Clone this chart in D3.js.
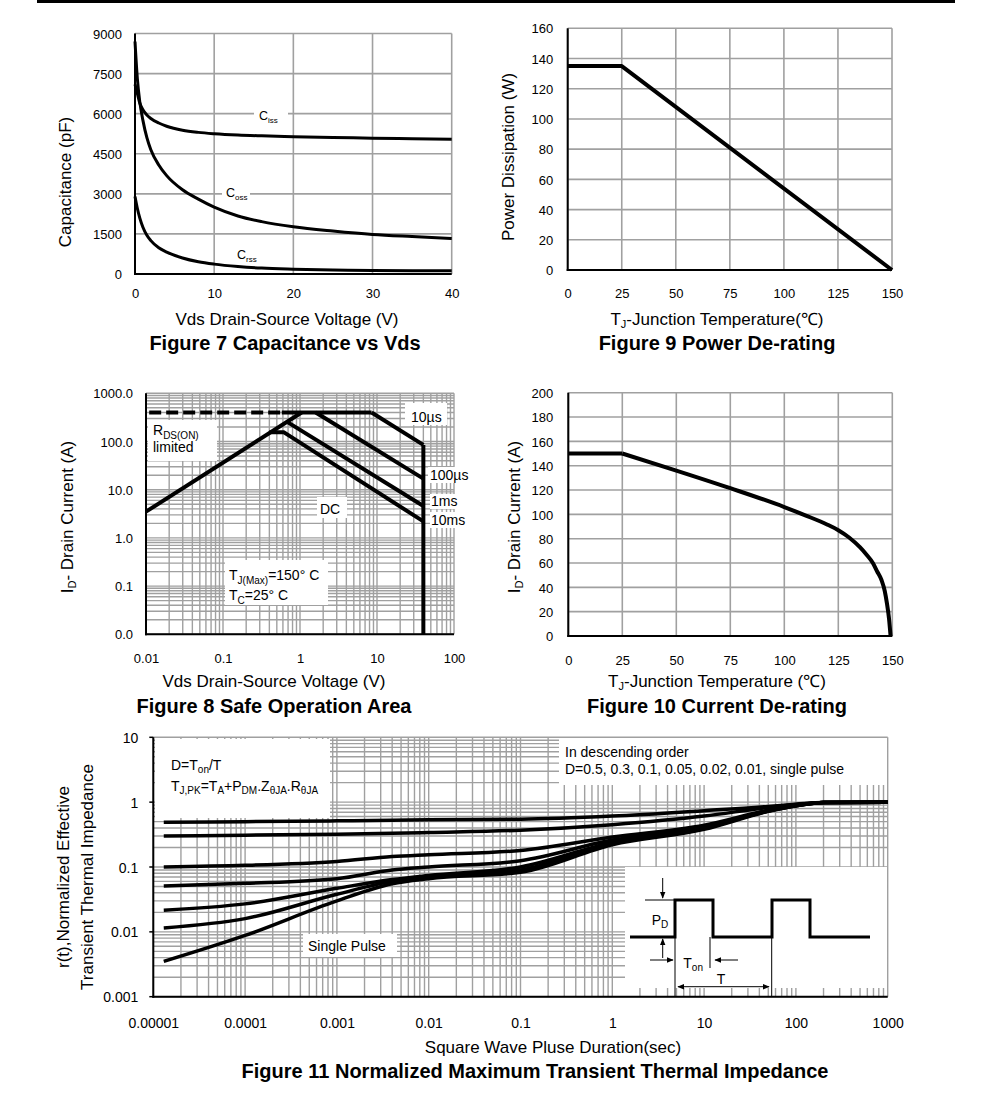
<!DOCTYPE html>
<html>
<head>
<meta charset="utf-8">
<script src="https://cdn.jsdelivr.net/npm/d3@7"></script>
<style>
body { margin: 0; background: #fff; }
svg { display: block; }
text { font-family: "Liberation Sans", Arial, sans-serif; fill: #000; }
</style>
</head>
<body>
<svg width="991" height="1118"></svg>
<script>
// ---------- Figure 7 : capacitance vs Vds
var capVolts = [0, 0.3, 0.6, 1, 1.5, 2, 3, 4, 6, 8, 10, 13, 16, 20, 25, 30, 35, 40];
var cissPF = [7100, 6750, 6400, 6150, 5950, 5820, 5650, 5530, 5380, 5300, 5250, 5200, 5170, 5140, 5110, 5080, 5060, 5040];
var cossPF = [8700, 7300, 6450, 5750, 5100, 4650, 4080, 3680, 3150, 2800, 2500, 2170, 1960, 1770, 1610, 1480, 1400, 1330];
var crssPF = [2900, 2450, 2100, 1750, 1450, 1250, 980, 820, 600, 460, 370, 280, 220, 180, 150, 135, 125, 120];
var capXTicks = [0, 10, 20, 30, 40];
var capYTicks = [0, 1500, 3000, 4500, 6000, 7500, 9000];

// ---------- Figure 9 : power de-rating
var pdTemp = [0, 25, 150];
var pdWatts = [135, 135, 0];
var tempTicks = [0, 25, 50, 75, 100, 125, 150];
var pdYTicks = [0, 20, 40, 60, 80, 100, 120, 140, 160];

// ---------- Figure 8 : safe operating area
var soaXTicks = [0.01, 0.1, 1, 10, 100];
var soaXLabels = ["0.01", "0.1", "1", "10", "100"];
var soaYTicks = [0.01, 0.1, 1, 10, 100, 1000];
var soaYLabels = ["0.0", "0.1", "1.0", "10.0", "100.0", "1000.0"];
var rdsDashV = [0.011, 0.58], rdsDashA = [400, 400];
var riseV = [0.01, 1.05], riseA = [3.5, 400];
var flatV = [0.58, 8.5], flatA = [400, 400];
var us10V = [8.5, 40], us10A = [400, 85];
var us100V = [1.6, 40], us100A = [400, 17];
var ms1V = [0.68, 40], ms1A = [255, 4.6];
var ms10V = [0.4, 0.62, 40], ms10A = [155, 155, 2.2];
var vmaxV = [40, 40], vmaxA = [85, 0.01];

// ---------- Figure 10 : current de-rating
var idTemp = [0, 25, 50, 75, 100, 110, 120, 125, 130, 135, 138, 141, 143, 145, 146.5, 147.5, 148.5, 149.2];
var idAmps = [150, 150, 136, 121.5, 106, 99, 91.5, 87, 81, 73, 67, 60, 53, 46, 37, 27, 14, 0];
var idYTicks = [0, 20, 40, 60, 80, 100, 120, 140, 160, 180, 200];

// ---------- Figure 11 : transient thermal impedance
var zthTime = [1.3e-5, 1e-4, 1e-3, 4e-3, 1e-2, 0.1, 1, 10, 50, 100, 200, 1000];
var zthD05 = [0.49, 0.50, 0.515, 0.525, 0.535, 0.545, 0.61, 0.74, 0.86, 0.93, 0.99, 1.0];
var zthD03 = [0.30, 0.31, 0.32, 0.33, 0.34, 0.37, 0.45, 0.61, 0.83, 0.92, 0.99, 1.0];
var zthD01 = [0.10, 0.106, 0.122, 0.145, 0.155, 0.18, 0.29, 0.44, 0.75, 0.89, 0.99, 1.0];
var zthD005 = [0.051, 0.056, 0.066, 0.09, 0.10, 0.125, 0.26, 0.41, 0.74, 0.89, 0.99, 1.0];
var zthD002 = [0.0216, 0.027, 0.047, 0.064, 0.074, 0.10, 0.24, 0.40, 0.73, 0.88, 0.99, 1.0];
var zthD001 = [0.0115, 0.016, 0.038, 0.060, 0.070, 0.09, 0.23, 0.39, 0.73, 0.88, 0.99, 1.0];
var zthSingle = [0.0035, 0.0088, 0.030, 0.055, 0.066, 0.083, 0.22, 0.38, 0.72, 0.88, 0.99, 1.0];
var zthXTicks = [1e-5, 1e-4, 1e-3, 1e-2, 0.1, 1, 10, 100, 1000];
var zthXLabels = ["0.00001", "0.0001", "0.001", "0.01", "0.1", "1", "10", "100", "1000"];
var zthYTicks = [0.001, 0.01, 0.1, 1, 10];
var zthYLabels = ["0.001", "0.01", "0.1", "1", "10"];

var svg = d3.select("svg");
var GRID = "#a0a0a0";

svg.append("rect").attr("x", 37).attr("y", 0).attr("width", 918).attr("height", 3).attr("fill", "#000");

var defs = svg.append("defs");
defs.append("marker").attr("id", "arr").attr("viewBox", "0 0 10 10")
    .attr("refX", 9).attr("refY", 5).attr("markerWidth", 7).attr("markerHeight", 7)
    .attr("markerUnits", "userSpaceOnUse").attr("orient", "auto-start-reverse")
    .append("path").attr("d", "M0,1 L10,5 L0,9 Z").attr("fill", "#000");

// log grid positions 1..9 per decade
var logSteps = function(lo, hi)
{
    var out = [];
    for (var e = Math.round(Math.log10(lo)); e < Math.round(Math.log10(hi)); e++)
        for (var k = 1; k < 10; k++) out.push(k * Math.pow(10, e));
    out.push(hi);
    return out;
}

var panel = function(left, top)
{
    return svg.append("g").attr("transform", "translate(" + left + "," + top + ")");
}

var grid = function(g, x, y, xs, ys, width)
{
    var w = x.range()[1], h = y.range()[0];
    g.append("g").selectAll("line").data(xs).enter().append("line")
        .attr("x1", function(d){ return x(d); }).attr("x2", function(d){ return x(d); })
        .attr("y1", 0).attr("y2", h)
        .attr("stroke", GRID).attr("stroke-width", width);
    g.append("g").selectAll("line").data(ys).enter().append("line")
        .attr("y1", function(d){ return y(d); }).attr("y2", function(d){ return y(d); })
        .attr("x1", 0).attr("x2", w)
        .attr("stroke", GRID).attr("stroke-width", width);
}

var frame = function(g, x, y)
{
    var w = x.range()[1], h = y.range()[0];
    g.append("line").attr("x1", 0).attr("x2", 0).attr("y1", 0).attr("y2", h + 1)
        .attr("stroke", "#000").attr("stroke-width", 2);
    g.append("line").attr("x1", -1).attr("x2", w).attr("y1", h).attr("y2", h)
        .attr("stroke", "#000").attr("stroke-width", 2);
}

var axes = function(g, x, y, xs, xl, ys, yl, xBase, yEnd, size)
{
    var h = y.range()[0];
    var ax = g.append("g").attr("transform", "translate(0," + h + ")")
        .call(d3.axisBottom(x).tickValues(xs).tickSize(0).tickFormat(function(d, i){ return xl[i]; }));
    ax.select(".domain").remove();
    ax.selectAll("text").attr("y", xBase).attr("dy", null)
        .style("font-size", size + "px").style("font-family", '"Liberation Sans", Arial, sans-serif').attr("fill", "#000");
    var ay = g.append("g")
        .call(d3.axisLeft(y).tickValues(ys).tickSize(0).tickFormat(function(d, i){ return yl[i]; }));
    ay.select(".domain").remove();
    ay.selectAll("text").attr("x", -yEnd).attr("dy", "0.36em")
        .style("font-size", size + "px").style("font-family", '"Liberation Sans", Arial, sans-serif').attr("fill", "#000");
}

var curve = function(g, x, y, xs, ys, width, kind)
{
    var pts = xs.map(function(v, i){ return [v, ys[i]]; });
    var line = d3.line().x(function(p){ return x(p[0]); }).y(function(p){ return y(p[1]); });
    if (kind) line.curve(kind);
    return g.append("path").datum(pts).attr("d", line)
        .attr("fill", "none").attr("stroke", "#000").attr("stroke-width", width)
        .attr("stroke-linejoin", "round");
}

var whiteBox = function(x0, y0, x1, y1)
{
    svg.append("rect").attr("x", x0).attr("y", y0).attr("width", x1 - x0).attr("height", y1 - y0).attr("fill", "#fff");
}

// text with sub/sup parts: parts = [[string, size, dy], ...]
var rich = function(parent, x, y, parts, anchor, rotate)
{
    var t = parent.append("text").attr("x", x).attr("y", y).attr("text-anchor", anchor || "start");
    if (rotate) t.attr("transform", "rotate(-90," + x + "," + y + ")");
    parts.forEach(function(p){
        t.append("tspan").text(p[0]).style("font-size", p[1] + "px").attr("dy", p[2] || 0);
    });
    return t;
}

var title = function(x, y, s)
{
    svg.append("text").attr("x", x).attr("y", y).attr("text-anchor", "middle")
        .style("font-size", "20px").style("font-weight", "bold").text(s);
}

// ================= Figure 7
var x7 = d3.scaleLinear().domain([0, 40]).range([0, 316.7]);
var y7 = d3.scaleLinear().domain([0, 9000]).range([240.5, 0]);
var g7 = panel(135, 33.5);
grid(g7, x7, y7, capXTicks, capYTicks, 1.6);
frame(g7, x7, y7);
axes(g7, x7, y7, capXTicks, capXTicks.map(String), capYTicks, capYTicks.map(String), 24, 13, 13);
whiteBox(254, 106, 288, 124);
whiteBox(222, 184, 250, 202);
curve(g7, x7, y7, capVolts, cissPF, 3, d3.curveMonotoneX);
curve(g7, x7, y7, capVolts, cossPF, 3, d3.curveMonotoneX);
curve(g7, x7, y7, capVolts, crssPF, 3, d3.curveMonotoneX);
rich(svg, 259, 120, [["C", 12.5], ["iss", 8, 3]]);
rich(svg, 226, 197, [["C", 12.5], ["oss", 8, 3]]);
rich(svg, 237, 259, [["C", 12.5], ["rss", 8, 3]]);
rich(svg, 287, 325, [["Vds Drain-Source Voltage (V)", 17]], "middle");
rich(svg, 71, 182, [["Capacitance (pF)", 17]], "middle", true);
title(285, 350, "Figure 7 Capacitance vs Vds");

// ================= Figure 9
var x9 = d3.scaleLinear().domain([0, 150]).range([0, 324.3]);
var y9 = d3.scaleLinear().domain([0, 160]).range([241.7, 0]);
var g9 = panel(567.7, 28.3);
grid(g9, x9, y9, tempTicks, pdYTicks, 1.6);
frame(g9, x9, y9);
axes(g9, x9, y9, tempTicks, tempTicks.map(String), pdYTicks, pdYTicks.map(String), 27.5, 14.5, 13);
curve(g9, x9, y9, pdTemp, pdWatts, 4);
rich(svg, 717, 325, [["T", 17], ["J", 11, 3], ["-Junction Temperature(\u2103)", 17, -3]], "middle");
rich(svg, 514, 157, [["Power Dissipation (W)", 17]], "middle", true);
title(717, 350, "Figure 9 Power De-rating");

// ================= Figure 8
var x8 = d3.scaleLog().domain([0.01, 100]).range([0, 308]);
var y8 = d3.scaleLog().domain([0.01, 1000]).range([241, 0]);
var g8 = panel(146, 393.3);
grid(g8, x8, y8, logSteps(0.01, 100), logSteps(0.01, 1000), 1.4);
frame(g8, x8, y8);
axes(g8, x8, y8, soaXTicks, soaXLabels, soaYTicks, soaYLabels, 28.7, 13, 13);
whiteBox(405, 403, 447, 425);
whiteBox(148, 420, 217, 461);
whiteBox(317, 497, 347, 518);
whiteBox(225, 560, 328, 605);
whiteBox(428, 467, 468, 483);
whiteBox(430, 494, 458, 509);
whiteBox(430, 512, 466, 528);
curve(g8, x8, y8, rdsDashV, rdsDashA, 4).attr("stroke-dasharray", "12,5");
curve(g8, x8, y8, riseV, riseA, 4);
curve(g8, x8, y8, flatV, flatA, 4);
curve(g8, x8, y8, us10V, us10A, 4);
curve(g8, x8, y8, us100V, us100A, 4);
curve(g8, x8, y8, ms1V, ms1A, 4);
curve(g8, x8, y8, ms10V, ms10A, 4);
curve(g8, x8, y8, vmaxV, vmaxA, 4);
rich(svg, 411, 422, [["10\u00b5s", 14]]);
rich(svg, 153, 435, [["R", 14], ["DS(ON)", 10, 4]]);
rich(svg, 153, 452, [["limited", 14]]);
rich(svg, 430, 480, [["100\u00b5s", 14]]);
rich(svg, 431, 506, [["1ms", 14]]);
rich(svg, 431, 525, [["10ms", 14]]);
rich(svg, 320, 514, [["DC", 14]]);
rich(svg, 229, 580, [["T", 14], ["J(Max)", 10, 4], ["=150\u00b0  C", 14, -4]]);
rich(svg, 229, 600, [["T", 14], ["C", 10, 4], ["=25\u00b0  C", 14, -4]]);
rich(svg, 274, 687, [["Vds Drain-Source Voltage (V)", 17]], "middle");
rich(svg, 73, 517, [["I", 17], ["D", 11, 3], ["- Drain Current (A)", 17, -3]], "middle", true);
title(274, 713, "Figure 8 Safe Operation Area");

// ================= Figure 10
var x10 = d3.scaleLinear().domain([0, 150]).range([0, 324]);
var y10 = d3.scaleLinear().domain([0, 200]).range([243.3, 0]);
var g10 = panel(568.3, 392.7);
grid(g10, x10, y10, tempTicks, idYTicks, 1.6);
frame(g10, x10, y10);
axes(g10, x10, y10, tempTicks, tempTicks.map(String), idYTicks, idYTicks.map(String), 29, 15, 13);
// flat part up to 25 C keeps its sharp corner, the rest is smoothed
curve(g10, x10, y10, idTemp.slice(0, 2), idAmps.slice(0, 2), 4);
curve(g10, x10, y10, idTemp.slice(1), idAmps.slice(1), 4, d3.curveMonotoneX);
rich(svg, 717, 687, [["T", 17], ["J", 11, 3], ["-Junction Temperature (\u2103)", 17, -3]], "middle");
rich(svg, 520, 517, [["I", 17], ["D", 11, 3], ["- Drain Current (A)", 17, -3]], "middle", true);
title(717, 713, "Figure 10 Current De-rating");

// ================= Figure 11
var x11 = d3.scaleLog().domain([1e-5, 1000]).range([0, 734.4]);
var y11 = d3.scaleLog().domain([0.001, 10]).range([259.4, 0]);
var g11 = panel(153.3, 737.3);
grid(g11, x11, y11, logSteps(1e-5, 1000), logSteps(0.001, 10), 1.4);
frame(g11, x11, y11);
g11.append("g").selectAll("line").data(zthYTicks).enter().append("line")
    .attr("x1", -4).attr("x2", 0)
    .attr("y1", function(d){ return y11(d); }).attr("y2", function(d){ return y11(d); })
    .attr("stroke", "#000").attr("stroke-width", 1.5);
axes(g11, x11, y11, zthXTicks, zthXLabels, zthYTicks, zthYLabels, 31, 15, 14);
whiteBox(155, 739, 330, 818);
whiteBox(559, 738, 887, 785);
whiteBox(303, 934, 397, 957);
whiteBox(625, 867, 887, 988);
[zthD05, zthD03, zthD01, zthD005, zthD002, zthD001, zthSingle].forEach(function(s){
    curve(g11, x11, y11, zthTime, s, 3.5, d3.curveMonotoneX);
});
rich(svg, 171, 770, [["D=T", 14], ["on", 10, 3], ["/T", 14, -3]]);
rich(svg, 171, 791, [["T", 14], ["J,PK", 10, 3], ["=T", 14, -3], ["A", 10, 3], ["+P", 14, -3], ["DM", 10, 3],
    [".Z", 14, -3], ["\u03b8JA", 10, 3], [".R", 14, -3], ["\u03b8JA", 10, 3]]);
rich(svg, 565, 757, [["In descending order", 14]]);
rich(svg, 565, 774, [["D=0.5, 0.3, 0.1, 0.05, 0.02, 0.01, single pulse", 14]]);
rich(svg, 308, 951, [["Single Pulse", 14]]);

// pulse inset (schematic)
var ins = svg.append("g").attr("transform", "translate(625,867)");
ins.append("path").attr("d", "M5,70 H50 V33 H88 V70 H147 V33 H185 V70 H245")
    .attr("fill", "none").attr("stroke", "#000").attr("stroke-width", 3);
var thin = function(d, arrows)
{
    var p = ins.append("path").attr("d", d).attr("fill", "none").attr("stroke", "#000").attr("stroke-width", 1);
    if (arrows == "end" || arrows == "both") p.attr("marker-end", "url(#arr)");
    if (arrows == "both") p.attr("marker-start", "url(#arr)");
}
thin("M20,33 H50");
thin("M37.7,11 V31", "end");
thin("M37.7,91 V72", "end");
thin("M25,93 H48", "end");
thin("M113,93 H90", "end");
thin("M50,70 V130");
thin("M85,70 V101");
thin("M146.7,70 V130");
thin("M53,119.7 H144", "both");
rich(ins, 26.7, 58, [["P", 14], ["D", 10, 3]]);
rich(ins, 58.3, 101, [["T", 14], ["on", 10, 3]]);
rich(ins, 91.7, 117, [["T", 14]]);

rich(svg, 553, 1053, [["Square Wave Pluse Duration(sec)", 17]], "middle");
rich(svg, 69, 877, [["r(t),Normalized Effective", 17]], "middle", true);
rich(svg, 93, 877, [["Transient Thermal Impedance", 17]], "middle", true);
title(535, 1078, "Figure 11 Normalized Maximum Transient Thermal Impedance");
</script>
</body>
</html>
